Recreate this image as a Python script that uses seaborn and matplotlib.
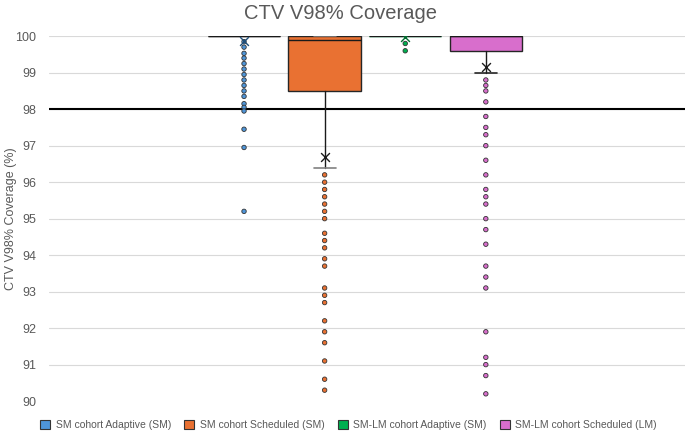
import matplotlib
matplotlib.use("Agg")
import matplotlib.pyplot as plt
import seaborn as sns
import pandas as pd
from matplotlib.patches import Patch

# series names and colours
groups = ['SM cohort Adaptive (SM)', 'SM cohort Scheduled (SM)',
          'SM-LM cohort Adaptive (SM)', 'SM-LM cohort Scheduled (LM)']
colors = ['#4E95D9', '#E97132', '#00B050', '#D86ECC']

# box statistics
q1 = [100.0, 98.5, 100.0, 99.6]
med = [100.0, 99.9, 100.0, 100.0]
q3 = [100.0, 100.0, 100.0, 100.0]
whis_lo = [100.0, 96.4, 100.0, 99.0]
whis_hi = [100.0, 100.0, 100.0, 100.0]
means = [99.87, 96.68, 99.97, 99.15]

# outliers
out_sm_adapt = [99.85, 99.7, 99.53, 99.4, 99.25, 99.1, 98.95, 98.8, 98.65,
                98.5, 98.35, 98.15, 98.05, 97.95, 97.45, 96.95, 95.2]
out_sm_sched = [96.2, 96.0, 95.8, 95.6, 95.4, 95.2, 95.0, 94.6, 94.4, 94.2,
                93.9, 93.7, 93.1, 92.9, 92.7, 92.2, 91.9, 91.6, 91.1, 90.6, 90.3]
out_lm_adapt = [99.8, 99.6]
out_lm_sched = [98.8, 98.65, 98.5, 98.2, 97.8, 97.5, 97.3, 97.0, 96.6, 96.2,
                95.8, 95.6, 95.4, 95.0, 94.7, 94.3, 93.7, 93.4, 93.1, 91.9,
                91.2, 91.0, 90.7, 90.2]

yticks = [90, 91, 92, 93, 94, 95, 96, 97, 98, 99, 100]
threshold = 98

sns.set_theme(style='white')
plt.rcParams['font.family'] = ['Liberation Sans', 'DejaVu Sans']

fig = plt.figure(figsize=(6.86, 4.36), dpi=100)
ax = fig.add_axes([0.0714, 0.080, 0.927, 0.837])

ax.set_ylim(90, 100)
ax.set_yticks(yticks)
for y in yticks[1:]:
    ax.axhline(y, color='#d9d9d9', lw=0.8, zorder=0)

# boxes
edge_cols = ['#262626', '#262626', '#00B050', '#262626']
cap_cols = ['#262626', '#808080', '#00B050', '#262626']
for i in range(4):
    st = [dict(med=med[i], q1=q1[i], q3=q3[i], whislo=whis_lo[i],
               whishi=whis_hi[i], fliers=[], label=groups[i])]
    ax.bxp(st, positions=[i], widths=0.9, patch_artist=True, showfliers=False,
           boxprops=dict(facecolor=colors[i], edgecolor=edge_cols[i], lw=1.0),
           medianprops=dict(color='#1a1a1a', lw=1.0),
           whiskerprops=dict(color='#1a1a1a', lw=1.0),
           capprops=dict(color=cap_cols[i], lw=1.2), capwidths=0.27,
           zorder=2)

# outlier points
out_df = pd.DataFrame({
    'group': ([groups[0]] * len(out_sm_adapt) + [groups[1]] * len(out_sm_sched)
              + [groups[2]] * len(out_lm_adapt) + [groups[3]] * len(out_lm_sched)),
    'value': out_sm_adapt + out_sm_sched + out_lm_adapt + out_lm_sched,
})
sns.stripplot(data=out_df, x='group', y='value', hue='group', order=groups,
              hue_order=groups, palette=colors, jitter=False, size=3.2,
              linewidth=0.6, edgecolor='#333333', legend=False, ax=ax, zorder=3)

# means
mean_df = pd.DataFrame({'pos': list(range(4)), 'mean': means})
mean_cols = ['#1F4E79', '#1a1a1a', '#006B2F', '#1a1a1a']
for i in range(4):
    ax.scatter(mean_df['pos'][i], mean_df['mean'][i], marker='x', s=40,
               color=mean_cols[i], lw=1.0, zorder=4)

ax.axhline(threshold, color='black', lw=1.5, zorder=1)

ax.set_xlim(-2.42, 5.47)
ax.set_xticks([])
ax.set_xlabel('')
for s in ax.spines.values():
    s.set_visible(False)
ax.tick_params(axis='y', length=0, labelsize=9, labelcolor='#595959', pad=9)
ax.set_ylabel('CTV V98% Coverage (%)', fontsize=9, color='#595959')
ax.yaxis.set_label_coords(-0.05, 0.5)
fig.suptitle('CTV V98% Coverage', fontsize=14.5, color='#595959',
             x=0.497, y=0.99)

handles = [Patch(facecolor=c, edgecolor='#333333', lw=0.8, label=g)
           for c, g in zip(colors, groups)]
fig.legend(handles=handles, loc='lower center', ncol=4, frameon=False,
           fontsize=7.5, bbox_to_anchor=(0.508, -0.008), handlelength=0.95,
           handleheight=0.95, handletextpad=0.5, columnspacing=1.3,
           labelcolor='#595959')

fig.savefig('out.png', dpi=100)
